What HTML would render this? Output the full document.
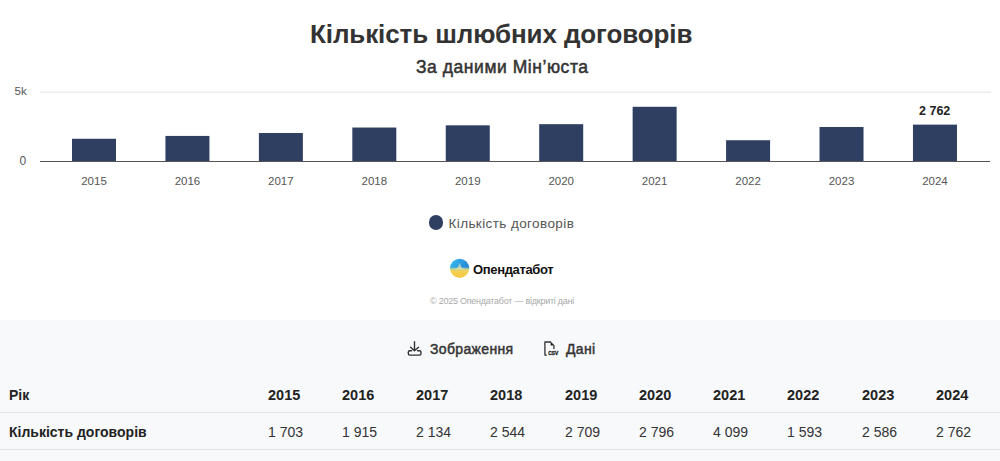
<!DOCTYPE html>
<html><head><meta charset="utf-8">
<style>
html,body{margin:0;padding:0;}
body{width:1000px;height:461px;overflow:hidden;background:#f8f9fb;font-family:"Liberation Sans",sans-serif;position:relative;}
.top{position:absolute;left:0;top:0;width:1000px;height:320px;background:#fff;}
.a{position:absolute;white-space:nowrap;line-height:1;}
.title{font-size:26px;font-weight:bold;color:#333;letter-spacing:-0.1px;}
.sub{font-size:17.5px;font-weight:normal;color:#333;-webkit-text-stroke:0.5px #333;letter-spacing:0.55px;}
.grid{position:absolute;left:40px;width:950px;height:1px;background:#e6e6e6;}
.axis{position:absolute;left:40px;width:950px;height:1px;background:#555;}
.ylab{font-size:12px;color:#555;}
.bar{position:absolute;width:44px;background:#2f3f61;}
.xlab{font-size:11.5px;color:#555;}
.dl{font-size:12.5px;font-weight:bold;color:#222;}
.leg{font-size:13.5px;color:#555;letter-spacing:0.4px;}
.dot{position:absolute;width:14.6px;height:14.6px;border-radius:50%;background:#2f3f61;}
.brand{font-size:13px;font-weight:bold;color:#111;letter-spacing:-0.35px;}
.copy{font-size:9px;color:#aaa;letter-spacing:-0.25px;}
.btn{font-size:14px;font-weight:normal;color:#333;-webkit-text-stroke:0.45px #333;letter-spacing:0.35px;}
.th{font-size:14px;font-weight:bold;color:#222;}
.td{font-size:14px;color:#333;}
.line{position:absolute;left:0;width:1000px;height:1px;background:#e1e3e7;}
</style></head>
<body>
<div class="top"></div>
<div class="a title" id="title" style="left:310px;top:21px;">Кількість шлюбних договорів</div>
<div class="a sub" id="sub" style="left:416px;top:59px;">За даними Мін’юста</div>

<svg style="position:absolute;left:0;top:0;" width="1000" height="200" viewBox="0 0 1000 200">
<rect x="40" y="91.6" width="951" height="1" fill="#e3e3e3"/>
<rect x="72.00" y="138.76" width="44" height="22.74" fill="#2f3f61"/>
<rect x="165.44" y="135.93" width="44" height="25.57" fill="#2f3f61"/>
<rect x="258.88" y="133.01" width="44" height="28.49" fill="#2f3f61"/>
<rect x="352.32" y="127.54" width="44" height="33.96" fill="#2f3f61"/>
<rect x="445.76" y="125.33" width="44" height="36.17" fill="#2f3f61"/>
<rect x="539.20" y="124.17" width="44" height="37.33" fill="#2f3f61"/>
<rect x="632.64" y="106.78" width="44" height="54.72" fill="#2f3f61"/>
<rect x="726.08" y="140.23" width="44" height="21.27" fill="#2f3f61"/>
<rect x="819.52" y="126.98" width="44" height="34.52" fill="#2f3f61"/>
<rect x="912.96" y="124.63" width="44" height="36.87" fill="#2f3f61"/>
<rect x="40" y="161" width="950" height="1" fill="#555"/>
</svg>
<div class="a xlab" style="left:64.00px;top:176px;width:60px;text-align:center;">2015</div>
<div class="a xlab" style="left:157.44px;top:176px;width:60px;text-align:center;">2016</div>
<div class="a xlab" style="left:250.88px;top:176px;width:60px;text-align:center;">2017</div>
<div class="a xlab" style="left:344.32px;top:176px;width:60px;text-align:center;">2018</div>
<div class="a xlab" style="left:437.76px;top:176px;width:60px;text-align:center;">2019</div>
<div class="a xlab" style="left:531.20px;top:176px;width:60px;text-align:center;">2020</div>
<div class="a xlab" style="left:624.64px;top:176px;width:60px;text-align:center;">2021</div>
<div class="a xlab" style="left:718.08px;top:176px;width:60px;text-align:center;">2022</div>
<div class="a xlab" style="left:811.52px;top:176px;width:60px;text-align:center;">2023</div>
<div class="a xlab" style="left:904.96px;top:176px;width:60px;text-align:center;">2024</div>
<div class="a ylab" style="left:14.5px;top:86px;font-size:11.5px;">5k</div>
<div class="a ylab" style="left:19.5px;top:155px;">0</div>


<div class="a dl" style="left:919px;top:105px;">2 762</div>


<div class="dot" style="left:428.9px;top:215.4px;"></div>
<div class="a leg" style="left:448.5px;top:217px;">Кількість договорів</div>

<svg style="position:absolute;left:449px;top:258px;" width="22" height="22" viewBox="0 0 22 22">
<defs><clipPath id="lc"><circle cx="10.6" cy="10.3" r="9.6"/></clipPath>
<linearGradient id="lb" x1="0" y1="0" x2="1" y2="0.3"><stop offset="0" stop-color="#35c2f2"/><stop offset="1" stop-color="#2a86d6"/></linearGradient>
<linearGradient id="ly" x1="0" y1="0" x2="0" y2="1"><stop offset="0" stop-color="#f4d35a"/><stop offset="1" stop-color="#f7c53a"/></linearGradient>
<linearGradient id="ls" x1="0" y1="0" x2="0" y2="1"><stop offset="0" stop-color="#9fd8e8"/><stop offset="1" stop-color="#eee39a"/></linearGradient>
</defs>
<filter id="lf" x="-20%" y="-20%" width="140%" height="140%"><feGaussianBlur stdDeviation="0.5"/></filter>
<g filter="url(#lf)"><g clip-path="url(#lc)">
<rect x="0" y="0" width="22" height="11.5" fill="url(#lb)"/>
<rect x="0" y="10.5" width="22" height="12" fill="url(#ly)"/>
<rect x="0" y="9.5" width="22" height="3" fill="#a6d6b0" opacity="0.5"/>
<path d="M5 11.5 Q9 10.5 10 6 Q10.6 4.5 11.2 6 Q12.2 10.5 16 11.5 Z" fill="url(#ls)" opacity="0.8"/>
</g></g>
</svg>
<div class="a brand" style="left:473px;top:263px;">Опендатабот</div>
<div class="a copy" style="left:430px;top:297px;">© 2025 Опендатабот — відкриті дані</div>

<svg style="position:absolute;left:403px;top:338px;" width="24" height="22" viewBox="0 0 24 22">
<path d="M11.5 3.8 V12.4 M7.6 9.2 L11.5 12.8 L15.5 9.2" fill="none" stroke="#333" stroke-width="1.4" stroke-linecap="round" stroke-linejoin="round"/>
<path d="M8.6 12.7 H6.8 Q5.3 12.7 5.3 14.2 V15.6 Q5.3 17.1 6.8 17.1 H16.5 Q18 17.1 18 15.6 V14.2 Q18 12.7 16.5 12.7 H14.6" fill="none" stroke="#333" stroke-width="1.4" stroke-linecap="round" stroke-linejoin="round"/>
</svg>
<div class="a btn" style="left:430px;top:342px;">Зображення</div>

<svg style="position:absolute;left:540px;top:338px;" width="22" height="22" viewBox="0 0 22 22">
<path d="M11 4 H4.9 V17.1 H6.8" fill="none" stroke="#333" stroke-width="1.3" stroke-linejoin="round"/>
<path d="M10.6 3.4 L14.6 7.5 L10.6 7.5 Z" fill="#222"/>
<path d="M13.9 7.2 V11" fill="none" stroke="#333" stroke-width="1.3"/>
<text x="8.3" y="17.3" font-size="6" font-family="Liberation Sans" font-weight="bold" fill="#222" stroke="#222" stroke-width="0.35" textLength="10" lengthAdjust="spacingAndGlyphs">CSV</text>
</svg>
<div class="a btn" style="left:566px;top:342px;">Дані</div>

<div class="a th" style="left:9px;top:388px;">Рік</div>
<div class="a th" style="left:268px;top:387.5px;font-size:14.5px;">2015</div>
<div class="a th" style="left:342px;top:387.5px;font-size:14.5px;">2016</div>
<div class="a th" style="left:416px;top:387.5px;font-size:14.5px;">2017</div>
<div class="a th" style="left:490px;top:387.5px;font-size:14.5px;">2018</div>
<div class="a th" style="left:565px;top:387.5px;font-size:14.5px;">2019</div>
<div class="a th" style="left:639px;top:387.5px;font-size:14.5px;">2020</div>
<div class="a th" style="left:713px;top:387.5px;font-size:14.5px;">2021</div>
<div class="a th" style="left:787px;top:387.5px;font-size:14.5px;">2022</div>
<div class="a th" style="left:862px;top:387.5px;font-size:14.5px;">2023</div>
<div class="a th" style="left:936px;top:387.5px;font-size:14.5px;">2024</div>
<div class="line" style="top:412px;"></div>

<div class="a th" style="left:9px;top:425px;">Кількість договорів</div>
<div class="a td" style="left:268px;top:425px;">1 703</div>
<div class="a td" style="left:342px;top:425px;">1 915</div>
<div class="a td" style="left:416px;top:425px;">2 134</div>
<div class="a td" style="left:490px;top:425px;">2 544</div>
<div class="a td" style="left:565px;top:425px;">2 709</div>
<div class="a td" style="left:639px;top:425px;">2 796</div>
<div class="a td" style="left:713px;top:425px;">4 099</div>
<div class="a td" style="left:787px;top:425px;">1 593</div>
<div class="a td" style="left:862px;top:425px;">2 586</div>
<div class="a td" style="left:936px;top:425px;">2 762</div>
<div class="line" style="top:449px;"></div>
</body></html>
